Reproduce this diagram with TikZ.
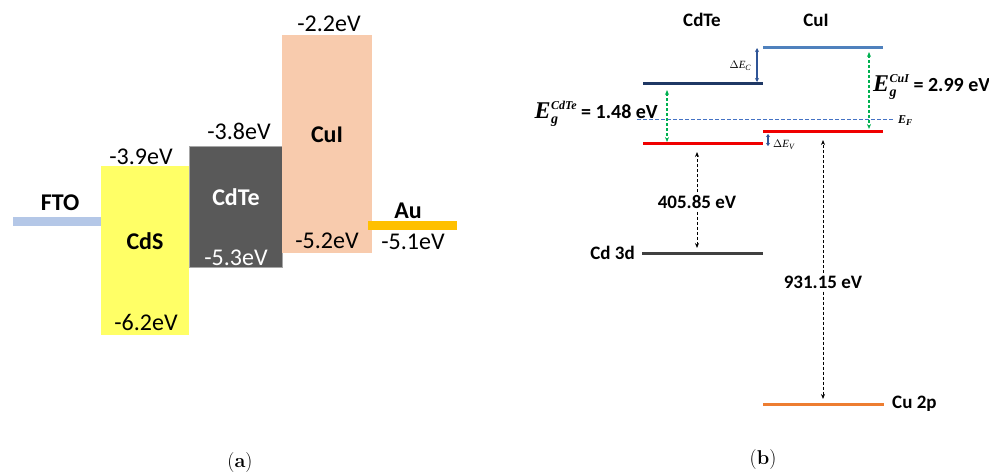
\documentclass[tikz,border=0pt]{standalone}
\usepackage{fontspec}
\newfontfamily\carl{Carlito}
\newfontfamily\lsr{Liberation Serif}
\newcommand{\lsbi}{\lsr\bfseries\itshape}
\newcommand{\lsi}{\lsr\itshape}
\newcommand{\egsym}[1]{{\lsbi\fontsize{24}{24}\selectfont E}\kern0.5pt\rlap{\raisebox{-5pt}{\lsbi\fontsize{14}{14}\selectfont g}}\raisebox{9pt}{\lsbi\fontsize{12}{12}\selectfont #1}}
\usetikzlibrary{arrows.meta}
\definecolor{ftoc}{RGB}{180,199,231}
\definecolor{cdsc}{RGB}{255,255,102}
\definecolor{cdtec}{RGB}{89,89,89}
\definecolor{cuic}{RGB}{248,203,173}
\definecolor{auc}{RGB}{255,192,0}
\definecolor{cbcui}{RGB}{79,129,189}
\definecolor{cbcdte}{RGB}{31,56,100}
\definecolor{vbc}{RGB}{240,0,0}
\definecolor{cdthree}{RGB}{64,64,64}
\definecolor{cutwo}{RGB}{237,125,49}
\definecolor{efc}{RGB}{68,114,196}
\definecolor{greenc}{RGB}{0,176,80}
\definecolor{deltac}{RGB}{47,85,151}
\tikzset{
  val/.style={font=\carl\fontsize{24}{28}\selectfont, inner sep=0pt},
  mat/.style={font=\carl\bfseries\fontsize{24}{28}\selectfont, inner sep=0pt},
  rlab/.style={font=\carl\bfseries\fontsize{19}{23}\selectfont, inner sep=0pt},
  eglab/.style={font=\carl\bfseries\fontsize{20}{24}\selectfont, inner sep=0pt},
  smalltxt/.style={font=\lsi\fontsize{11}{13}\selectfont, inner sep=0pt},
  level/.style={line width=3pt},
  garrow/.style={greenc, line width=1.2pt, dash pattern=on 3pt off 2pt, {Stealth[length=5pt,width=4pt]}-{Stealth[length=5pt,width=4pt]}},
  karrow/.style={black, line width=1pt, dash pattern=on 3pt off 2pt, -{Stealth[length=5pt,width=4pt]}},
  darrow/.style={deltac, line width=1.2pt, {Stealth[length=4pt,width=4pt]}-{Stealth[length=4pt,width=4pt]}},
  caption/.style={font=\fontsize{20}{24}\selectfont, inner sep=0pt},
}
\begin{document}
\begin{tikzpicture}[x=1pt,y=-1pt]
\useasboundingbox (0,0) rectangle (989,475);
% ---- panel (a) ----
\fill[ftoc] (13,217) rectangle (102,226);
\fill[cdsc] (101,166) rectangle (189,335);
\filldraw[fill=cdtec, draw=black!35, line width=0.6pt] (189,146) rectangle (282,267);
\fill[cuic] (282,35) rectangle (372,253);
\fill[auc] (368,221) rectangle (457,230);
\node[mat] (fto) at (60,203) {FTO};
\node[mat] (cds) at (145,241) {CdS};
\node[mat, text=white] (cdte) at (236,197) {CdTe};
\node[mat] (cui) at (327,135) {CuI};
\node[mat] (au) at (408,211) {Au};
\node[val] (v39) at (141,157) {-3.9eV};
\node[val] (v62) at (146,322) {-6.2eV};
\node[val] (v38) at (239,131) {-3.8eV};
\node[val, text=white] (v53) at (236,258) {-5.3eV};
\node[val] (v22) at (329,24) {-2.2eV};
\node[val] (v52) at (327,241) {-5.2eV};
\node[val] (v51) at (413,242) {-5.1eV};
\node[caption] (capa) at (240,463) {(\textbf{a})};
% ---- panel (b) ----
\node[rlab] (tcdte) at (702,20) {CdTe};
\node[rlab] (tcui) at (816,20) {CuI};
\coordinate (cuicbL) at (763,47);  \coordinate (cuicbR) at (883,47);
\coordinate (cdtecbL) at (643,83); \coordinate (cdtecbR) at (763,83);
\coordinate (cdtevbL) at (643,143); \coordinate (cdtevbR) at (763,143);
\coordinate (cuivbL) at (763,131); \coordinate (cuivbR) at (883,131);
\coordinate (cdL) at (642,253); \coordinate (cdR) at (763,253);
\coordinate (cuL) at (763,404); \coordinate (cuR) at (884,404);
\coordinate (efL) at (637,119); \coordinate (efR) at (893,119);
\draw[efc, line width=1pt, dash pattern=on 4pt off 2pt] (efL) -- (efR);
\draw[level, cbcui] (cuicbL) -- (cuicbR);
\draw[level, cbcdte] (cdtecbL) -- (cdtecbR);
\draw[level, vbc] (cdtevbL) -- (cdtevbR);
\draw[level, vbc] (cuivbL) -- (cuivbR);
\draw[level, cdthree] (cdL) -- (cdR);
\draw[level, cutwo] (cuL) -- (cuR);
% Delta arrows
\coordinate (dcB) at (757,82); \coordinate (dcT) at (757,48);
\draw[darrow] (dcB) -- (dcT);
\node[smalltxt, anchor=east] (dEc) at (751,66) {$\Delta$E\raisebox{-2pt}{\fontsize{8}{8}\selectfont C}};
\coordinate (dvT) at (768,134); \coordinate (dvB) at (768,146);
\draw[deltac, line width=1.2pt, {Stealth[length=3pt,width=4pt]}-{Stealth[length=3pt,width=4pt]}] (dvT) -- (dvB);
\node[smalltxt, anchor=west] (dEv) at (773,145) {$\Delta$E\raisebox{-2pt}{\fontsize{8}{8}\selectfont V}};
\node[smalltxt, anchor=west, font=\lsbi\fontsize{12}{14}\selectfont] (fermi) at (898,121) {E\raisebox{-2pt}{\fontsize{9}{9}\selectfont F}};
% green gaps
\coordinate (g1T) at (667,90); \coordinate (g1B) at (667,142);
\draw[garrow] (g1T) -- (g1B);
\coordinate (g2T) at (869,52); \coordinate (g2B) at (869,129);
\draw[garrow] (g2T) -- (g2B);
\node[eglab, anchor=base east] (egcdte) at (658,118) {\egsym{CdTe} = 1.48 eV};
\node[eglab, anchor=base west] (egcui) at (873,91) {\egsym{CuI} = 2.99 eV};
% core level arrows
\node[rlab, fill=white, inner sep=3pt] (e405) at (697,202) {405.85 eV};
\coordinate (a1T) at (697,152); \coordinate (a1B) at (697,248);
\draw[karrow] (e405.north) -- (a1T);
\draw[karrow] (e405.south) -- (a1B);
\node[rlab, fill=white, inner sep=3pt] (e931) at (823,282) {931.15 eV};
\coordinate (a2T) at (823,140); \coordinate (a2B) at (823,399);
\draw[karrow] (e931.north) -- (a2T);
\draw[karrow] (e931.south) -- (a2B);
\node[rlab, anchor=east] (cd3d) at (635,253) {Cd 3d};
\node[rlab, anchor=west] (cu2p) at (892,404) {Cu 2p};
\node[caption] (capb) at (763,460) {(\textbf{b})};
\end{tikzpicture}
\end{document}
